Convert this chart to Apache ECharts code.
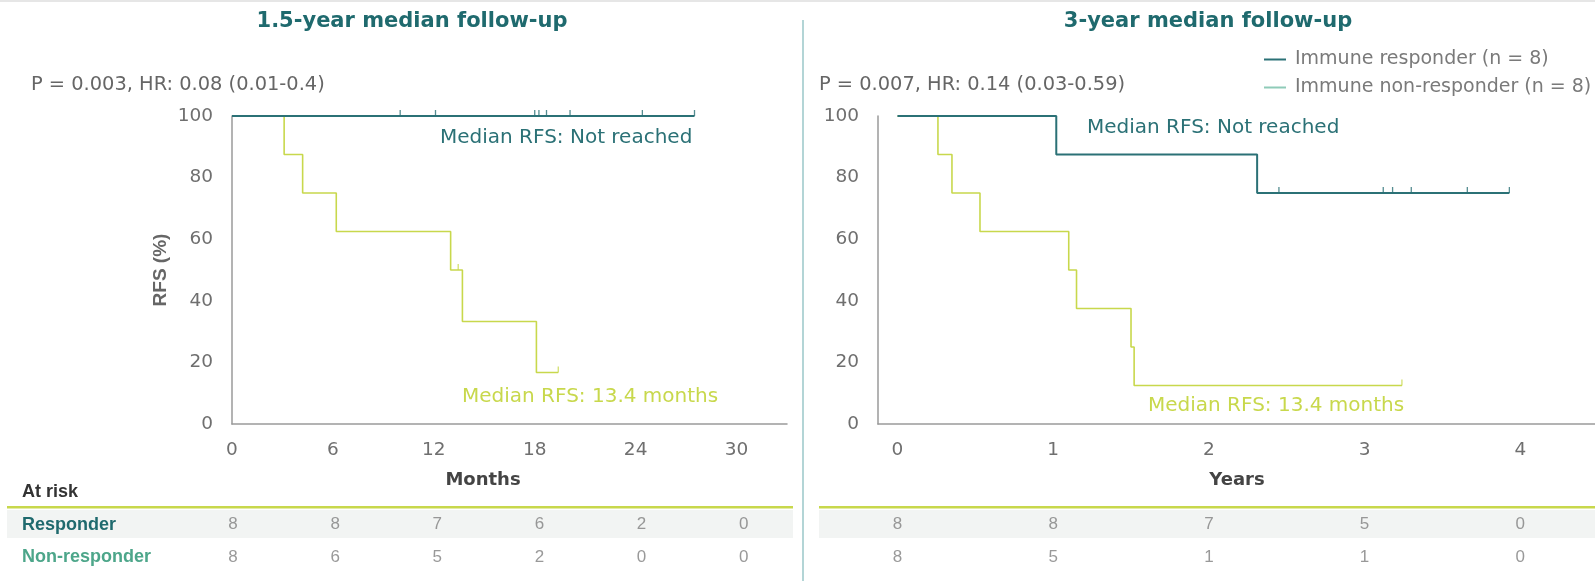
<!DOCTYPE html>
<html>
<head>
<meta charset="utf-8">
<script src="https://cdn.jsdelivr.net/npm/echarts@6/dist/echarts.min.js"></script>
<style>
html,body{margin:0;padding:0;background:#fff;}
#c{width:1595px;height:581px;}
</style>
</head>
<body>
<div id="c"></div>
<script>
// ---------- data ----------
const monthTicks = [0, 6, 12, 18, 24, 30];
const yearTicks = [0, 1, 2, 3, 4];

// 1.5-year follow-up (months)
const leftRespSteps = [[0, 100], [27.5, 100]];
const leftRespCensor = [[10.0, 100], [12.1, 100], [18.0, 100], [18.25, 100], [18.7, 100], [20.1, 100], [24.4, 100], [27.5, 100]];
const leftNonSteps = [[0, 100], [3.1, 87.5], [4.2, 75], [6.2, 62.5], [13.0, 50], [13.7, 33.3], [18.1, 16.7], [19.4, 16.7]];
const leftNonCensor = [[13.45, 50], [19.4, 16.7]];

// 3-year follow-up (years)
const rightRespSteps = [[0, 100], [1.02, 87.5], [2.31, 75], [3.93, 75]];
const rightRespCensor = [[2.45, 75], [3.12, 75], [3.18, 75], [3.30, 75], [3.66, 75], [3.93, 75]];
const rightNonSteps = [[0, 100], [0.26, 87.5], [0.35, 75], [0.53, 62.5], [1.10, 50], [1.15, 37.5], [1.50, 25], [1.52, 12.5], [3.24, 12.5]];
const rightNonCensor = [[3.24, 12.5]];

// at risk
const leftRespAtRisk = [8, 8, 7, 6, 2, 0];
const leftNonAtRisk = [8, 6, 5, 2, 0, 0];
const rightRespAtRisk = [8, 8, 7, 5, 0];
const rightNonAtRisk = [8, 5, 1, 1, 0];

const rowNames = ['Non-responder', 'Responder'];
const respName = 'Immune responder (n = 8)';
const nonName = 'Immune non-responder (n = 8)';

// ---------- styles ----------
const TEAL = '#2b7176';
const TITLE = '#1f6a6e';
const LIME = '#c8d84c';
const LEGEND_NON = '#8fcbb8';
const NONLABEL = '#4da68a';
const GRAY = '#6f6f6f';
const AXIS = '#9a9a9a';
const F = '"DejaVu Sans", sans-serif';
const FT = '"Liberation Sans", Arial, sans-serif';

function tableData(ticks, vals, row) {
  return ticks.map((t, i) => [t, row, vals[i]]);
}

function kmLine(name, data, color, width, xi) {
  return {
    name: name, type: 'line', step: 'end', xAxisIndex: xi, yAxisIndex: xi,
    data: data, showSymbol: false, symbol: 'none',
    lineStyle: { color: color, width: width }, itemStyle: { color: color },
    silent: true, z: 3
  };
}
function censor(data, color, xi) {
  return {
    type: 'scatter', xAxisIndex: xi, yAxisIndex: xi, data: data,
    symbol: 'rect', symbolSize: [1.3, 6], symbolOffset: [0, -3],
    itemStyle: { color: color }, silent: true, z: 4
  };
}
function tableSeries(ticks, vals, row, xi) {
  return {
    type: 'scatter', xAxisIndex: xi, yAxisIndex: xi,
    data: tableData(ticks, vals, row), symbolSize: 0.01,
    label: {
      show: true, position: 'inside', formatter: p => String(p.value[2]),
      fontFamily: FT, fontSize: 17, color: '#808080'
    },
    silent: true
  };
}

function txt(text, x, y, font, fill, align) {
  return {
    type: 'text', x: x, y: y, silent: true,
    style: { text: text, font: font, fill: fill, align: align || 'left', verticalAlign: 'middle',
             textAlign: align || 'left', textVerticalAlign: 'middle' }
  };
}
function rect(x, y, w, h, color) {
  return { type: 'rect', shape: { x: x, y: y, width: w, height: h }, style: { fill: color }, silent: true, z: 0 };
}

const valueAxisY = (gi, name) => ({
  type: 'value', gridIndex: gi, min: 0, max: 100, interval: 20,
  axisLine: { show: true, onZero: false, lineStyle: { color: AXIS, width: 1.5 } },
  axisTick: { show: false }, splitLine: { show: false },
  axisLabel: { color: GRAY, fontFamily: F, fontSize: 18.5, margin: 19 },
  name: name || '', nameLocation: 'middle', nameGap: 62, nameRotate: 90,
  nameTextStyle: { fontFamily: FT, fontWeight: 'bold', fontSize: 19, color: '#666' }
});

const option = {
  backgroundColor: '#ffffff',
  animation: false,
  grid: [
    { left: 232, top: 116, width: 555, height: 308, outerBoundsMode: 'none', containLabel: false },
    { left: 878, top: 116, right: 0, height: 308, outerBoundsMode: 'none', containLabel: false },
    { left: 233, top: 508, width: 555, height: 66, outerBoundsMode: 'none', containLabel: false },
    { left: 878, top: 508, right: 0, height: 66, outerBoundsMode: 'none', containLabel: false }
  ],
  xAxis: [
    { type: 'value', gridIndex: 0, min: 0, max: 33,
      axisLine: { show: true, onZero: false, lineStyle: { color: AXIS, width: 1.5 } },
      axisTick: { show: false }, splitLine: { show: false },
      axisLabel: { color: GRAY, fontFamily: F, fontSize: 18.5, margin: 17, customValues: monthTicks } },
    { type: 'value', gridIndex: 1, min: -0.125, max: 4.48,
      axisLine: { show: true, onZero: false, lineStyle: { color: AXIS, width: 1.5 } },
      axisTick: { show: false }, splitLine: { show: false },
      axisLabel: { color: GRAY, fontFamily: F, fontSize: 18.5, margin: 17, customValues: yearTicks } },
    { type: 'value', gridIndex: 2, min: 0, max: 32.6, show: false },
    { type: 'value', gridIndex: 3, min: -0.125, max: 4.48, show: false }
  ],
  yAxis: [
    valueAxisY(0, 'RFS (%)'),
    valueAxisY(1, ''),
    { type: 'category', gridIndex: 2, data: rowNames, show: false },
    { type: 'category', gridIndex: 3, data: rowNames, show: false }
  ],
  legend: {
    left: 1264, top: 50, orient: 'vertical', itemGap: 9, padding: 0,
    icon: 'rect', itemWidth: 22, itemHeight: 2,
    textStyle: { fontFamily: F, fontSize: 19, color: '#7a7a7a', padding: [0, 0, 0, 4] },
    selectedMode: false,
    data: [
      { name: respName, itemStyle: { color: TEAL } },
      { name: nonName, itemStyle: { color: LEGEND_NON } }
    ]
  },
  graphic: [
    rect(0, 0, 1595, 2, '#e6e6e6'),
    rect(802, 20, 2, 561, '#b3d5d6'),
    rect(7, 510, 786, 28, '#f2f4f3'),
    rect(819, 510, 776, 28, '#f2f4f3'),
    rect(7, 506, 786, 2.5, LIME),
    rect(819, 506, 776, 2.5, LIME),
    txt('1.5-year median follow-up', 412, 22, 'bold 21px ' + F, TITLE, 'center'),
    txt('3-year median follow-up', 1208, 22, 'bold 21px ' + F, TITLE, 'center'),
    txt('P = 0.003, HR: 0.08 (0.01-0.4)', 31, 85, '19.4px ' + F, '#666', 'left'),
    txt('P = 0.007, HR: 0.14 (0.03-0.59)', 819, 85, '19.4px ' + F, '#666', 'left'),
    txt('Median RFS: Not reached', 440, 138, '20px ' + F, TEAL, 'left'),
    txt('Median RFS: Not reached', 1087, 128, '20px ' + F, TEAL, 'left'),
    txt('Median RFS: 13.4 months', 462, 397, '20px ' + F, LIME, 'left'),
    txt('Median RFS: 13.4 months', 1148, 406, '20px ' + F, LIME, 'left'),
    txt('Months', 483, 480, 'bold 18px ' + F, '#444', 'center'),
    txt('Years', 1237, 480, 'bold 18px ' + F, '#444', 'center'),
    txt('At risk', 22, 492, 'bold 18px ' + FT, '#333', 'left'),
    txt('Responder', 22, 525, 'bold 18px ' + FT, TITLE, 'left'),
    txt('Non-responder', 22, 557, 'bold 18px ' + FT, NONLABEL, 'left')
  ],
  series: [
    kmLine(nonName, leftNonSteps, LIME, 1.6, 0),
    kmLine(respName, leftRespSteps, TEAL, 2, 0),
    censor(leftNonCensor, LIME, 0),
    censor(leftRespCensor, TEAL, 0),
    kmLine(nonName, rightNonSteps, LIME, 1.6, 1),
    kmLine(respName, rightRespSteps, TEAL, 2, 1),
    censor(rightNonCensor, LIME, 1),
    censor(rightRespCensor, TEAL, 1),
    tableSeries(monthTicks, leftRespAtRisk, 'Responder', 2),
    tableSeries(monthTicks, leftNonAtRisk, 'Non-responder', 2),
    tableSeries(yearTicks, rightRespAtRisk, 'Responder', 3),
    tableSeries(yearTicks, rightNonAtRisk, 'Non-responder', 3)
  ]
};

const chart = echarts.init(document.getElementById('c'), null, { renderer: 'canvas' });
chart.setOption(option);
</script>
</body>
</html>
